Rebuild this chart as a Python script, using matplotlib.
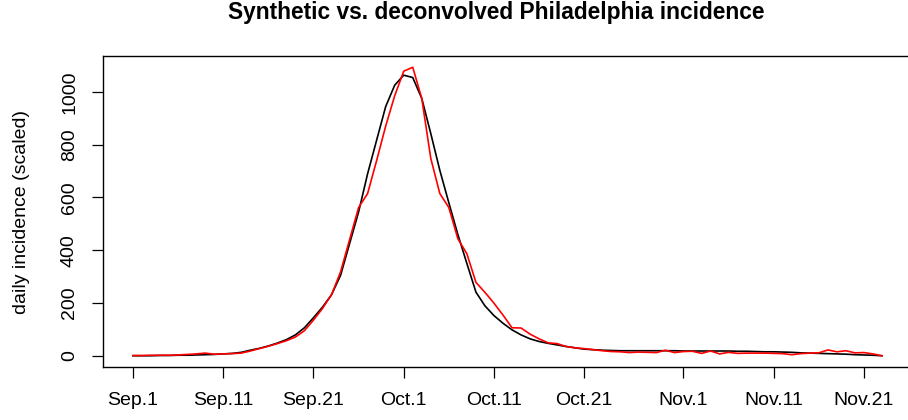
import numpy as np
import matplotlib
matplotlib.use("Agg")
import matplotlib.pyplot as plt

plt.rcParams['font.family'] = ['Liberation Sans', 'DejaVu Sans']

# day index from Sep.1
days = np.arange(84)

# synthetic incidence (black)
synthetic = [1, 1, 1, 2, 2, 3, 3, 4, 5, 6,
             8, 10, 14, 22, 29, 38, 49, 62, 80, 107,
             145, 185, 232, 305, 425, 545, 690, 817, 944, 1025,
             1063, 1054, 975, 842, 703, 580, 460, 350, 242, 190,
             153, 124, 99, 80, 65, 55, 48, 42, 36, 31,
             26, 24, 22, 21, 20, 20, 20, 20, 20, 20,
             20, 19, 19, 19, 19, 19, 19, 18, 18, 17,
             16, 16, 15, 14, 12, 11, 10, 9, 8, 7,
             5, 4, 3, 1]

# deconvolved incidence (red)
deconvolved = [2, 2, 3, 3, 3, 4, 6, 8, 11, 7,
               8, 9, 11, 19, 28, 37, 47, 58, 72, 96,
               136, 180, 232, 318, 440, 562, 615, 740, 870, 985,
               1078, 1093, 975, 748, 615, 562, 444, 387, 279, 241,
               200, 155, 107, 106, 83, 65, 50, 47, 36, 31,
               28, 24, 20, 17, 16, 13, 15, 14, 13, 22,
               13, 17, 18, 10, 19, 8, 14, 10, 11, 11,
               11, 10, 9, 5, 9, 11, 12, 23, 16, 20,
               12, 13, 8, 1]

tick_days = [0, 10, 20, 30, 40, 50, 61, 71, 81]
tick_labels = ["Sep.1", "Sep.11", "Sep.21", "Oct.1", "Oct.11",
               "Oct.21", "Nov.1", "Nov.11", "Nov.21"]
y_ticks = [0, 200, 400, 600, 800, 1000]

W, H = 908, 420
fig = plt.figure(figsize=(W/100, H/100), dpi=100)
ax = fig.add_axes([103/W, (H-367.3)/H, (912-103)/W, (367.3-55.7)/H])

ax.plot(days, synthetic, color='black', lw=1.2)
ax.plot(days, deconvolved, color='red', lw=1.2)

# R-style 4% padding
x0, x1 = days.min(), days.max()
ax.set_xlim(x0 - 0.04*(x1-x0), x1 + 0.04*(x1-x0))
allv = np.concatenate([synthetic, deconvolved])
y0, y1 = allv.min(), allv.max()
ax.set_ylim(y0 - 0.04*(y1-y0), y1 + 0.04*(y1-y0))

ax.set_xticks(tick_days)
ax.set_xticklabels(tick_labels)
ax.set_yticks(y_ticks)
ax.set_yticklabels([str(v) for v in y_ticks], rotation=90, va='center')
ax.tick_params(axis='both', length=8, width=0.9, labelsize=14, pad=10)

for s in ax.spines.values():
    s.set_linewidth(1.0)

fig.text(22/W, 1 - 211.5/H, "daily incidence (scaled)", rotation=90,
         ha='center', va='center', fontsize=14)
fig.text(496/W, 1 - 19.5/H, "Synthetic vs. deconvolved Philadelphia incidence",
         ha='center', va='baseline', fontsize=16.4, fontweight='bold')

fig.savefig("out.png", dpi=100)
